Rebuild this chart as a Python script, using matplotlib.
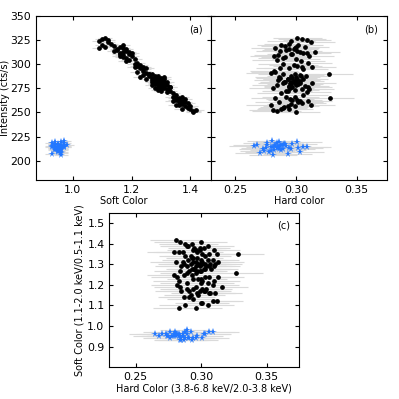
import matplotlib
matplotlib.use('Agg')
import matplotlib.pyplot as plt

# black observations: soft color, hard color, intensity (cts/s)
soft_black = [1.09, 1.10, 1.10, 1.11, 1.12, 1.13, 1.09, 1.11, 1.12, 1.14,
              1.15, 1.16, 1.17, 1.17, 1.18, 1.16, 1.19, 1.18, 1.17, 1.15, 1.20, 1.16, 1.18, 1.19, 1.17, 1.21,
              1.14, 1.18, 1.16, 1.20, 1.19, 1.17,
              1.21, 1.22, 1.23, 1.22, 1.24, 1.23, 1.25, 1.24, 1.26, 1.22, 1.25, 1.23, 1.26, 1.24, 1.21, 1.25,
              1.27, 1.24,
              1.27, 1.28, 1.29, 1.30, 1.28, 1.31, 1.29, 1.30, 1.32, 1.27, 1.29, 1.31, 1.30, 1.28, 1.33, 1.29,
              1.31, 1.30, 1.32, 1.28, 1.26, 1.29, 1.30, 1.31, 1.33, 1.27, 1.30, 1.32, 1.29, 1.31, 1.28, 1.34,
              1.30, 1.29, 1.32, 1.31, 1.27, 1.33, 1.30, 1.28,
              1.34, 1.35, 1.36, 1.35, 1.37, 1.36, 1.38, 1.37, 1.39, 1.34, 1.36, 1.38, 1.40, 1.39, 1.41, 1.37,
              1.35, 1.40, 1.42, 1.38, 1.36, 1.39, 1.35, 1.41, 1.37]
int_black = [324, 326, 320, 327, 323, 321, 317, 318, 325, 319,
             315, 312, 317, 310, 314, 308, 311, 306, 313, 316, 309, 318, 316, 313, 307, 305,
             314, 303, 311, 312, 304, 320,
             300, 298, 296, 292, 295, 299, 291, 289, 290, 301, 296, 287, 288, 293, 297, 285,
             290, 297,
             286, 283, 281, 279, 288, 277, 284, 280, 274, 282, 276, 282, 286, 279, 272, 285,
             275, 283, 278, 281, 290, 288, 272, 280, 276, 278, 277, 282, 273, 285, 275, 270,
             281, 279, 271, 287, 284, 276, 274, 285,
             266, 263, 261, 268, 259, 265, 257, 262, 256, 262, 258, 264, 254, 260, 251, 266,
             258, 257, 252, 261, 263, 255, 265, 250, 254]
hard_black = [0.296, 0.305, 0.288, 0.301, 0.312, 0.294, 0.283, 0.300, 0.309, 0.291,
              0.292, 0.306, 0.299, 0.285, 0.301, 0.311, 0.296, 0.289, 0.303, 0.298, 0.282, 0.307, 0.294, 0.316,
              0.291, 0.300, 0.287, 0.304, 0.297, 0.309, 0.284, 0.302,
              0.289, 0.301, 0.294, 0.283, 0.306, 0.298, 0.279, 0.303, 0.327, 0.310, 0.287, 0.300, 0.296, 0.282,
              0.305, 0.293, 0.299, 0.313,
              0.297, 0.303, 0.289, 0.301, 0.308, 0.294, 0.285, 0.299, 0.305, 0.291, 0.310, 0.296, 0.287, 0.302,
              0.293, 0.306, 0.281, 0.298, 0.300, 0.295, 0.289, 0.304, 0.292, 0.313, 0.297, 0.284, 0.307, 0.290,
              0.299, 0.301, 0.295, 0.288, 0.303, 0.296, 0.309, 0.286, 0.300, 0.294, 0.311, 0.293,
              0.292, 0.301, 0.286, 0.306, 0.296, 0.283, 0.299, 0.310, 0.290, 0.303, 0.279, 0.295, 0.288, 0.305,
              0.284, 0.299, 0.312, 0.293, 0.281, 0.302, 0.297, 0.289, 0.328, 0.300, 0.294]

# blue observations
soft_blue = [0.95, 0.94, 0.96, 0.93, 0.97, 0.95, 0.96, 0.94, 0.95, 0.96, 0.96, 0.94, 0.97, 0.95, 0.93, 0.96,
             0.95, 0.94, 0.97, 0.96, 0.95, 0.93, 0.96, 0.94, 0.97, 0.95, 0.94, 0.96, 0.95, 0.93, 0.97, 0.96,
             0.94, 0.95, 0.96, 0.97, 0.95, 0.98, 0.94, 0.96]
int_blue = [214, 216, 212, 218, 215, 210, 219, 213, 216, 208, 215, 211, 220, 217, 214, 213,
            209, 217, 214, 212, 216, 215, 206, 212, 218, 213, 217, 211, 213, 207, 216, 214,
            219, 212, 215, 214, 210, 216, 213, 209]
hard_blue = [0.281, 0.276, 0.289, 0.284, 0.292, 0.279, 0.286, 0.294, 0.283, 0.270, 0.265, 0.288, 0.280, 0.297,
             0.285, 0.302, 0.278, 0.290, 0.306, 0.273, 0.268, 0.287, 0.281, 0.296, 0.276, 0.284, 0.291, 0.282,
             0.275, 0.293, 0.288, 0.279, 0.301, 0.286, 0.283, 0.309, 0.274, 0.289, 0.285, 0.303]

soft_err = 0.025
hard_err = 0.02
soft_err_c = 0.01

ERR = '#dadada'
BLUE = '#2277ff'
FS = 7
TICK_FS = 7.8

plt.rcParams['font.size'] = FS


def style(ax):
    ax.tick_params(direction='in', top=True, right=True, labelsize=TICK_FS, length=3)


def plot_err(ax, x, y, xerr, yerr=None):
    ax.errorbar(x, y, xerr=xerr, yerr=yerr, fmt='none', ecolor=ERR, elinewidth=0.8, zorder=1)


fig = plt.figure(figsize=(3.99, 3.99), dpi=100)
ax_a = fig.add_axes([0.090, 0.549, 0.439, 0.411])
ax_b = fig.add_axes([0.529, 0.549, 0.441, 0.411], sharey=ax_a)
ax_c = fig.add_axes([0.274, 0.080, 0.476, 0.386])

# (a) intensity vs soft color
plot_err(ax_a, soft_black, int_black, soft_err)
plot_err(ax_a, soft_blue, int_blue, soft_err)
ax_a.plot(soft_black, int_black, 'o', ms=2.4, color='k', zorder=3)
ax_a.plot(soft_blue, int_blue, '*', ms=5.5, color=BLUE, mew=0, zorder=3)
ax_a.set_xlim(0.875, 1.47)
ax_a.set_ylim(180, 350)
ax_a.set_xticks([1.0, 1.2, 1.4])
ax_a.set_yticks([200, 225, 250, 275, 300, 325, 350])
ax_a.set_xlabel('Soft Color', labelpad=1)
ax_a.set_ylabel('Intensity (cts/s)')
ax_a.yaxis.set_label_coords(-0.15, 0.5)
ax_a.text(0.95, 0.95, '(a)', transform=ax_a.transAxes, ha='right', va='top')
style(ax_a)

# (b) intensity vs hard color
plot_err(ax_b, hard_black, int_black, hard_err)
plot_err(ax_b, hard_blue, int_blue, hard_err)
ax_b.plot(hard_black, int_black, 'o', ms=2.4, color='k', zorder=3)
ax_b.plot(hard_blue, int_blue, '*', ms=5.5, color=BLUE, mew=0, zorder=3)
ax_b.set_xlim(0.23, 0.375)
ax_b.set_xticks([0.25, 0.30, 0.35])
ax_b.set_xlabel('Hard color', labelpad=1)
ax_b.text(0.95, 0.95, '(b)', transform=ax_b.transAxes, ha='right', va='top')
style(ax_b)
ax_b.tick_params(labelleft=False)

# (c) soft color vs hard color
plot_err(ax_c, hard_black, soft_black, hard_err, soft_err_c)
plot_err(ax_c, hard_blue, soft_blue, hard_err, soft_err_c)
ax_c.plot(hard_black, soft_black, 'o', ms=2.4, color='k', zorder=3)
ax_c.plot(hard_blue, soft_blue, '*', ms=5.5, color=BLUE, mew=0, zorder=3)
ax_c.set_xlim(0.23, 0.375)
ax_c.set_ylim(0.8, 1.55)
ax_c.set_xticks([0.25, 0.30, 0.35])
ax_c.set_yticks([0.9, 1.0, 1.1, 1.2, 1.3, 1.4, 1.5])
ax_c.set_xlabel('Hard Color (3.8-6.8 keV/2.0-3.8 keV)', labelpad=1)
ax_c.set_ylabel('Soft Color (1.1-2.0 keV/0.5-1.1 keV)', labelpad=2)
ax_c.text(0.95, 0.95, '(c)', transform=ax_c.transAxes, ha='right', va='top')
style(ax_c)

fig.savefig('out.png', dpi=100)
